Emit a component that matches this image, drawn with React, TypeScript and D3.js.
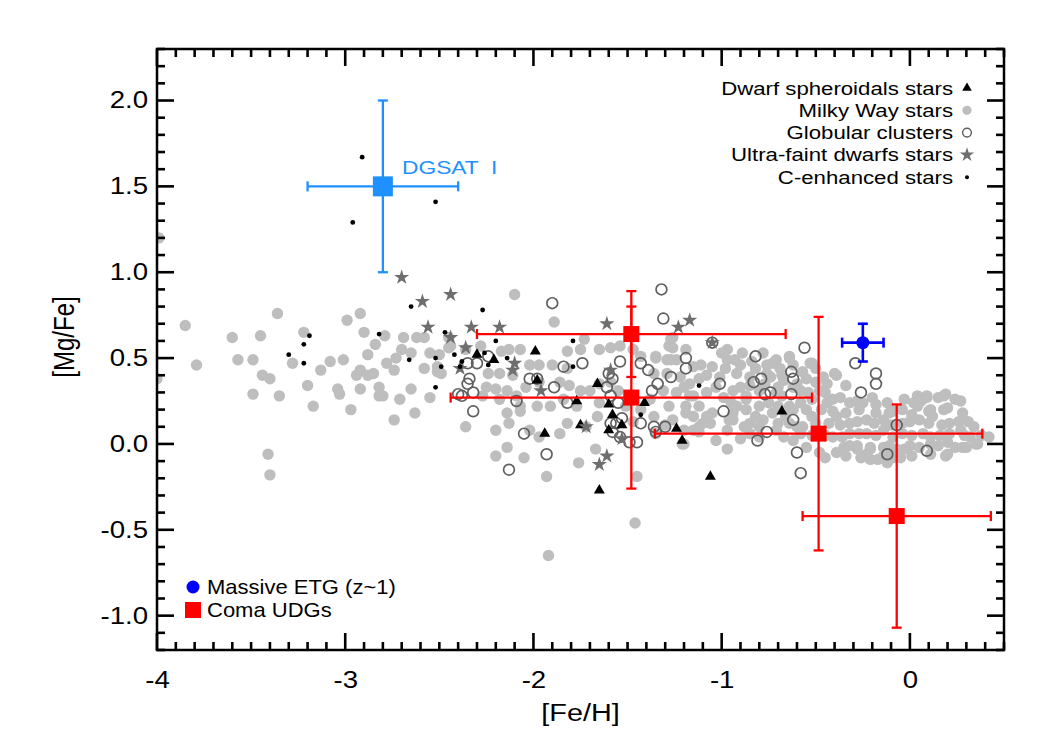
import React, { useEffect, useRef } from 'react';
import * as d3 from 'd3';

// [Fe/H], [Mg/Fe] pairs
const milkyWay: [number, number][] = [
  [-3.99, 1.2], [-4.0, 0.38], [-3.85, 0.69], [-3.79, 0.46], [-3.6, 0.62], [-3.57, 0.49], [-3.49, 0.49],
  [-3.45, 0.63], [-3.44, 0.4], [-3.4, 0.38], [-3.49, 0.29], [-3.35, 0.28], [-3.36, 0.76], [-3.22, 0.65],
  [-3.28, 0.47], [-3.2, 0.34], [-3.17, 0.22], [-3.13, 0.43], [-3.08, 0.48], [-3.01, 0.49], [-3.04, 0.32],
  [-3.03, 0.29], [-2.97, 0.2], [-2.99, 0.72], [-2.92, 0.76], [-2.9, 0.65], [-2.84, 0.58], [-2.88, 0.52],
  [-2.94, 0.4], [-2.92, 0.43], [-2.88, 0.4], [-2.85, 0.41], [-2.92, 0.32], [-2.82, 0.33], [-2.82, 0.28],
  [-2.8, 0.28], [-2.78, 0.47], [-2.73, 0.5], [-2.74, 0.43], [-2.7, 0.55], [-2.69, 0.62], [-2.79, 0.63],
  [-2.62, 0.62], [-2.58, 0.62], [-2.65, 0.32], [-2.71, 0.26], [-2.74, 0.14], [-2.63, 0.18], [-2.55, 0.27],
  [-2.58, 0.44], [-2.55, 0.53], [-2.5, 0.52], [-2.51, 0.42], [-2.49, 0.41], [-2.45, 0.56], [-2.45, 0.62],
  [-3.41, -0.06], [-3.4, -0.18],
  [-2.65, 0.53], [-2.51, 0.45], [-2.44, 0.57], [-2.36, 0.55], [-2.28, 0.57], [-2.17, 0.54], [-2.13, 0.55],
  [-2.07, 0.55], [-2.24, 0.41], [-2.18, 0.41], [-2.11, 0.4], [-2.02, 0.46], [-1.97, 0.46], [-1.9, 0.46],
  [-1.82, 0.44], [-2.25, 0.33], [-2.2, 0.32], [-2.14, 0.31], [-2.09, 0.28], [-2.04, 0.33], [-1.97, 0.36],
  [-1.86, 0.36], [-1.81, 0.34], [-1.75, 0.31], [-1.7, 0.31], [-1.65, 0.35], [-1.59, 0.36], [-1.55, 0.31],
  [-2.27, 0.28], [-2.18, 0.26], [-2.07, 0.22], [-1.98, 0.22], [-1.91, 0.22], [-1.84, 0.26], [-1.77, 0.22],
  [-1.65, 0.24], [-2.14, 0.18], [-2.07, 0.19], [-2.36, 0.1], [-2.2, 0.08], [-2.13, 0.12], [-2.02, 0.08],
  [-1.97, 0.04], [-1.86, 0.06], [-1.82, 0.12], [-1.72, 0.1], [-1.66, 0.16], [-2.2, -0.07], [-2.05, -0.08],
  [-1.93, -0.19], [-1.76, -0.11], [-1.67, -0.03], [-1.45, -0.19], [-2.1, 0.87], [-1.89, 0.71], [-1.73, 0.61],
  [-1.75, 0.55], [-1.65, 0.55], [-1.59, 0.56], [-1.54, 0.57], [-1.47, 0.55], [-1.43, 0.51], [-1.35, 0.51],
  [-1.29, 0.49], [-1.24, 0.49], [-1.19, 0.55], [-1.15, 0.45], [-1.26, 0.62], [-1.28, 0.57], [-1.36, 0.41],
  [-1.29, 0.41], [-1.22, 0.39], [-1.17, 0.35], [-1.31, 0.31], [-1.24, 0.3], [-1.17, 0.28], [-1.38, 0.26],
  [-1.28, 0.22], [-1.19, 0.22], [-1.15, 0.16], [-1.47, 0.28], [-1.43, 0.2], [-1.51, 0.22], [-1.47, 0.13],
  [-1.36, 0.16], [-1.26, 0.14], [-1.2, 0.0], [-1.12, 0.1], [-1.92, -0.65], [-1.46, -0.46], [-1.82, 0.54],
  [-1.08, 0.16], [-0.94, 0.18], [-0.87, 0.26], [-2.14, -0.02],
  [-1.35, 0.5], [-1.27, 0.49], [-1.26, 0.56], [-1.27, 0.61], [-1.11, 0.46], [-1.05, 0.45], [-0.97, 0.55],
  [-0.97, 0.49], [-0.89, 0.53], [-0.76, 0.46], [-0.71, 0.49], [-0.64, 0.5], [-0.53, 0.47], [-1.01, 0.39],
  [-0.92, 0.41], [-0.85, 0.39], [-0.74, 0.39], [-0.67, 0.37], [-0.6, 0.35], [-0.46, 0.39], [-0.39, 0.4],
  [-0.34, 0.34], [-1.2, 0.33], [-1.15, 0.28], [-1.08, 0.3], [-1.03, 0.33], [-0.94, 0.31], [-0.87, 0.28],
  [-0.8, 0.31], [-0.71, 0.3], [-0.58, 0.31], [-0.48, 0.31], [-0.41, 0.26], [-0.32, 0.24], [-0.25, 0.24],
  [-0.18, 0.23], [-0.11, 0.18], [-0.04, 0.2], [0.04, 0.22], [0.09, 0.28], [0.18, 0.28], [0.2, 0.21],
  [-1.19, 0.18], [-1.12, 0.22], [-1.05, 0.18], [-0.96, 0.14], [-0.87, 0.2], [-0.8, 0.22], [-0.73, 0.18],
  [-0.64, 0.22], [-0.55, 0.2], [-0.44, 0.24], [-0.39, 0.16], [-0.32, 0.12], [-0.23, 0.14], [-0.14, 0.14],
  [-0.04, 0.12], [0.05, 0.14], [0.12, 0.16], [0.21, 0.12], [0.27, 0.08], [0.32, 0.04], [0.36, 0.0],
  [0.28, -0.02], [0.2, 0.01], [0.11, 0.0], [0.0, -0.01], [-0.07, -0.03], [-0.14, -0.02], [-0.21, -0.03],
  [-0.28, -0.01], [-0.35, -0.02], [-0.41, 0.04], [-0.32, 0.06], [-0.23, 0.06], [-0.14, 0.08], [-0.04, 0.06],
  [0.07, 0.06], [0.16, 0.05], [-0.39, -0.05], [-0.28, -0.03], [-0.14, -0.07], [-0.05, -0.08], [-0.12, -0.11],
  [-0.23, -0.06], [-0.97, -0.03], [-0.9, 0.03], [-0.85, 0.06], [-0.94, 0.14], [-0.8, 0.1], [-0.71, 0.08],
  [-0.64, 0.12], [-0.57, 0.1], [-0.43, 0.12], [-0.8, 0.04], [-0.67, 0.04], [-1.2, 0.08], [-1.15, 0.08],
  [-1.12, 0.07], [-1.1, 0.12], [-1.06, 0.12], [-1.03, 0.02], [-0.97, 0.08], [-1.21, 0.0], [-1.35, 0.06],
  [-1.3, 0.11], [0.19, 0.29], [0.27, 0.25], [0.31, 0.13], [0.35, 0.0], [0.3, -0.02], [0.2, -0.06],
  [0.09, 0.27], [0.02, 0.24], [0.11, 0.2], [-0.12, -0.06], [-0.21, -0.09], [-0.52, 0.47], [-0.4, 0.41],
  [-0.44, 0.35], [-0.64, 0.51], [-0.73, 0.47], [-0.76, 0.41], [-1.0, 0.53], [-0.93, 0.49], [-0.82, 0.44],
  [-0.69, 0.44], [-0.55, 0.38], [-0.5, 0.44],
  [-0.37, 0.27], [-0.28, 0.25], [-0.2, 0.27], [-0.12, 0.24], [-0.03, 0.26], [0.06, 0.25], [0.15, 0.27],
  [0.24, 0.26], [-0.41, 0.19], [-0.34, 0.18], [-0.27, 0.2], [-0.18, 0.18], [-0.09, 0.19], [0.01, 0.17],
  [0.1, 0.19], [0.18, 0.2], [0.28, 0.18], [-0.37, 0.11], [-0.28, 0.13], [-0.19, 0.12], [-0.1, 0.11],
  [0.0, 0.13], [0.1, 0.12], [0.17, 0.11], [0.26, 0.13], [0.34, 0.1], [-0.45, 0.05], [-0.36, 0.04],
  [-0.27, 0.06], [-0.18, 0.05], [-0.09, 0.04], [0.01, 0.05], [0.11, 0.04], [0.21, 0.06], [0.29, 0.05],
  [0.38, 0.05], [-0.32, -0.01], [-0.21, -0.02], [-0.11, -0.01], [-0.03, -0.03], [0.05, -0.02], [0.15, -0.01],
  [0.24, -0.02], [-0.34, -0.07], [-0.26, -0.08], [-0.17, -0.09], [-0.09, -0.08], [0.01, -0.07], [0.11, -0.06],
  [0.19, -0.07], [-0.95, 0.24], [-0.9, 0.33], [-0.82, 0.16], [-0.75, 0.24], [-0.68, 0.28], [-0.62, 0.2],
  [-0.58, 0.06], [-0.52, 0.26], [-0.5, 0.12], [-0.47, 0.2], [-0.88, 0.1], [-0.7, 0.12], [-0.62, 0.02],
  [-0.55, -0.02], [-0.48, -0.05], [-0.45, -0.08],
  [-0.98, 0.44], [-0.9, 0.46], [-0.84, 0.48], [-0.78, 0.53], [-0.68, 0.4], [-0.62, 0.46], [-0.57, 0.42],
  [-0.5, 0.36], [-0.45, 0.3], [-1.08, 0.4], [-1.12, 0.38], [-0.99, 0.27], [-0.85, 0.34], [-0.77, 0.35],
  [-0.7, 0.33], [-0.62, 0.33], [-0.54, 0.3], [-0.92, 0.22], [-0.7, 0.22], [-0.58, 0.24], [-0.52, 0.16],
  [-0.78, 0.14], [-0.85, 0.12], [-0.66, 0.16], [-0.6, 0.1], [-0.52, 0.05], [0.42, 0.04], [0.04, 0.28],
];

const globulars: [number, number][] = [
  [-1.9, 0.82], [-1.32, 0.9], [-1.31, 0.73], [-2.35, 0.47], [-2.3, 0.47], [-2.24, 0.51], [-2.34, 0.38],
  [-2.35, 0.35], [-2.4, 0.29], [-2.38, 0.28], [-2.32, 0.3], [-2.32, 0.19], [-2.09, 0.25], [-2.02, 0.38],
  [-1.98, 0.38], [-1.89, 0.33], [-1.84, 0.45], [-1.74, 0.47], [-1.82, 0.24], [-2.05, 0.06], [-1.93, -0.06],
  [-2.13, -0.15], [-1.6, 0.41], [-1.61, 0.33], [-1.58, 0.38], [-1.54, 0.48], [-1.59, 0.28], [-1.55, 0.24],
  [-1.59, 0.12], [-1.56, 0.12], [-1.53, 0.15], [-1.58, 0.07], [-1.54, 0.04], [-1.49, 0.01], [-1.43, 0.47],
  [-1.39, 0.43], [-1.43, 0.12], [-1.36, 0.1], [-1.3, 0.1], [-1.35, 0.07], [-1.37, 0.31], [-1.34, 0.35],
  [-1.27, 0.39], [-1.19, 0.5], [-1.19, 0.44], [-1.45, 0.01], [-1.01, 0.35], [-0.99, 0.19], [-0.82, 0.51],
  [-0.83, 0.36], [-0.79, 0.38], [-0.77, 0.29], [-0.74, 0.3], [-0.76, 0.07], [-0.81, 0.02], [-0.63, 0.42],
  [-0.62, 0.38], [-0.63, 0.29], [-0.62, 0.14], [-0.6, -0.05], [-0.58, -0.17], [-0.56, 0.56], [-0.29, 0.47],
  [-0.18, 0.41], [-0.18, 0.35], [-0.26, 0.3], [-0.07, 0.11], [-0.12, -0.06], [0.09, -0.04], [-1.05, 0.59],
];

const dwarfSph: [number, number][] = [
  [-1.99, 0.54], [-2.3, 0.52], [-2.21, 0.49], [-1.98, 0.37], [-1.66, 0.35], [-1.77, 0.25], [-1.6, 0.23],
  [-1.41, 0.24], [-1.75, 0.11], [-1.94, 0.06], [-1.6, 0.08], [-1.53, 0.11], [-1.24, 0.09], [-1.21, 0.02],
  [-1.65, -0.27], [-1.58, 0.17], [-0.68, 0.19], [-1.06, -0.19],
];

const ultraFaint: [number, number][] = [
  [-2.7, 0.97], [-2.59, 0.83], [-2.44, 0.87], [-2.56, 0.68], [-2.33, 0.68], [-2.18, 0.68], [-2.44, 0.62],
  [-2.36, 0.56], [-2.39, 0.44], [-2.1, 0.47], [-2.11, 0.43], [-1.61, 0.7], [-1.59, 0.43], [-1.96, 0.31],
  [-1.72, 0.1], [-1.61, -0.07], [-1.65, -0.12], [-1.53, 0.03], [-1.17, 0.72], [-1.23, 0.68], [-1.05, 0.59],
];

const cEnhanced: [number, number][] = [
  [-2.91, 1.67], [-2.96, 1.29], [-2.52, 1.41], [-2.65, 0.8], [-2.82, 0.64], [-3.19, 0.63], [-3.22, 0.58],
  [-3.3, 0.52], [-3.22, 0.47], [-2.66, 0.49], [-2.52, 0.5], [-2.49, 0.45], [-2.52, 0.33], [-2.47, 0.65],
  [-2.27, 0.78], [-2.42, 0.52], [-2.39, 0.45], [-2.38, 0.48], [-2.26, 0.53], [-2.24, 0.46], [-2.2, 0.6],
  [-2.14, 0.5], [-1.79, 0.6], [-1.79, 0.45], [-1.43, 0.17], [-1.12, 0.34],
];

// Coma UDGs with errors
const udgFeH = [-1.48, -1.48, -0.485, -0.07];
const udgMgFe = [0.64, 0.27, 0.06, -0.42];
const udgFeHErr = [0.82, 0.96, 0.87, 0.5];
const udgMgFeErr = [0.25, 0.53, 0.68, 0.65];

const etg = { feh: -0.25, mgfe: 0.59, fehErr: 0.11, mgfeErr: 0.11 };
const dgsat = { feh: -2.8, mgfe: 1.5, fehErr: 0.4, mgfeErr: 0.5 };

const xMajor = [-4, -3, -2, -1, 0];
const yMajor = [-1, -0.5, 0, 0.5, 1, 1.5, 2];
const xMinor = d3.range(-40, 6).map((d) => d / 10);
const yMinor = d3.range(-12, 24).map((d) => d / 10);

const legendTop = ['Dwarf spheroidals stars', 'Milky Way stars', 'Globular clusters', 'Ultra-faint dwarfs stars', 'C-enhanced stars'];

const FONT = '"Liberation Sans", Arial, Helvetica, sans-serif';
const SX = 1.2;

const App = () => {
  const ref = useRef<SVGSVGElement>(null);

  useEffect(() => {
    if (!ref.current) return;
    const svg = d3.select(ref.current);
    svg.selectAll('*').remove();

    const left = 157, right = 1004, top = 49, bottom = 650;
    const x = d3.scaleLinear().domain([-4, 0.5]).range([left, right]);
    const y = d3.scaleLinear().domain([-1.2, 2.3]).range([bottom, top]);

    svg.append('defs').append('clipPath').attr('id', 'plotclip')
      .append('rect').attr('x', left).attr('y', top).attr('width', right - left).attr('height', bottom - top);

    const pts = svg.append('g').attr('clip-path', 'url(#plotclip)');

    pts.append('g').selectAll('circle').data(milkyWay).join('circle')
      .attr('cx', (d) => x(d[0])).attr('cy', (d) => y(d[1])).attr('r', 5.7).attr('fill', '#bebebe');

    pts.append('g').selectAll('circle').data(globulars).join('circle')
      .attr('cx', (d) => x(d[0])).attr('cy', (d) => y(d[1])).attr('r', 5.4)
      .attr('fill', 'none').attr('stroke', '#5f5f5f').attr('stroke-width', 1.7);

    const tri = d3.symbol().type(d3.symbolTriangle).size(52);
    pts.append('g').selectAll('path').data(dwarfSph).join('path')
      .attr('transform', (d) => `translate(${x(d[0])},${y(d[1])})`).attr('d', tri()).attr('fill', '#000');

    const star = d3.symbol().type(d3.symbolStar).size(72);
    pts.append('g').selectAll('path').data(ultraFaint).join('path')
      .attr('transform', (d) => `translate(${x(d[0])},${y(d[1])})`).attr('d', star()).attr('fill', '#6e6e6e');

    pts.append('g').selectAll('circle').data(cEnhanced).join('circle')
      .attr('cx', (d) => x(d[0])).attr('cy', (d) => y(d[1])).attr('r', 2.4).attr('fill', '#000');

    // error bars
    const errBar = (cx: number, cy: number, ex: number, ey: number, color: string, sw: number, cap: number) => {
      const g = svg.append('g').attr('stroke', color).attr('stroke-width', sw);
      g.append('line').attr('x1', x(cx - ex)).attr('x2', x(cx + ex)).attr('y1', y(cy)).attr('y2', y(cy));
      g.append('line').attr('x1', x(cx)).attr('x2', x(cx)).attr('y1', y(cy - ey)).attr('y2', y(cy + ey));
      [cx - ex, cx + ex].forEach((v) => g.append('line').attr('x1', x(v)).attr('x2', x(v)).attr('y1', y(cy) - cap).attr('y2', y(cy) + cap));
      [cy - ey, cy + ey].forEach((v) => g.append('line').attr('y1', y(v)).attr('y2', y(v)).attr('x1', x(cx) - cap).attr('x2', x(cx) + cap));
    };

    udgFeH.forEach((fe, i) => errBar(fe, udgMgFe[i], udgFeHErr[i], udgMgFeErr[i], '#ff0000', 2.3, 5));
    svg.append('g').selectAll('rect').data(udgFeH).join('rect')
      .attr('x', (d) => x(d) - 8).attr('y', (d, i) => y(udgMgFe[i]) - 8)
      .attr('width', 16).attr('height', 16).attr('fill', '#ff0000');

    errBar(etg.feh, etg.mgfe, etg.fehErr, etg.mgfeErr, '#0000ff', 2.6, 5);
    svg.append('circle').attr('cx', x(etg.feh)).attr('cy', y(etg.mgfe)).attr('r', 6.5).attr('fill', '#0000ff');

    errBar(dgsat.feh, dgsat.mgfe, dgsat.fehErr, dgsat.mgfeErr, '#1e90ff', 2.3, 5);
    svg.append('rect').attr('x', x(dgsat.feh) - 10).attr('y', y(dgsat.mgfe) - 10)
      .attr('width', 20).attr('height', 20).attr('fill', '#1e90ff');
    svg.append('text').attr('transform', `translate(402,174) scale(${SX},1)`)
      .attr('font-family', FONT).attr('font-size', 19).attr('fill', '#1e90ff')
      .style('white-space', 'pre').text('DGSAT  I');

    // tick labels through d3 axes
    const clean = (g: any) => {
      g.select('.domain').remove();
      g.selectAll('.tick line').remove();
      g.selectAll('.tick text').attr('font-family', FONT).attr('font-size', 23).attr('fill', '#000')
        .attr('transform', `scale(${SX},1)`);
    };
    svg.append('g').attr('transform', `translate(0,${bottom})`)
      .call(d3.axisBottom(x).tickValues(xMajor).tickSize(0).tickPadding(22).tickFormat((d) => String(d)))
      .call(clean);
    svg.append('g').attr('transform', `translate(${left},0)`)
      .call(d3.axisLeft(y).tickValues(yMajor).tickSize(0).tickPadding(7.5).tickFormat((d) => (+d).toFixed(1)))
      .call(clean);

    // frame and inward tick marks on all four sides
    svg.append('rect').attr('x', left).attr('y', top).attr('width', right - left).attr('height', bottom - top)
      .attr('fill', 'none').attr('stroke', '#000').attr('stroke-width', 2.5);

    const isMajor = (v: number, majors: number[]) => majors.some((m) => Math.abs(m - v) < 1e-9);
    const tk = svg.append('g').attr('stroke', '#000').attr('stroke-width', 2.6);
    tk.selectAll('line.xb').data(xMinor).join('line').attr('class', 'xb')
      .attr('x1', (v) => x(v)).attr('x2', (v) => x(v))
      .attr('y1', bottom).attr('y2', (v) => bottom - (isMajor(v, xMajor) ? 17 : 8));
    tk.selectAll('line.xt').data(xMinor).join('line').attr('class', 'xt')
      .attr('x1', (v) => x(v)).attr('x2', (v) => x(v))
      .attr('y1', top).attr('y2', (v) => top + (isMajor(v, xMajor) ? 17 : 8));
    tk.selectAll('line.yl').data(yMinor).join('line').attr('class', 'yl')
      .attr('y1', (v) => y(v)).attr('y2', (v) => y(v))
      .attr('x1', left).attr('x2', (v) => left + (isMajor(v, yMajor) ? 17 : 8));
    tk.selectAll('line.yr').data(yMinor).join('line').attr('class', 'yr')
      .attr('y1', (v) => y(v)).attr('y2', (v) => y(v))
      .attr('x1', right).attr('x2', (v) => right - (isMajor(v, yMajor) ? 17 : 8));

    svg.append('text').attr('transform', `translate(${(left + right) / 2},721) scale(${SX},1)`)
      .attr('text-anchor', 'middle').attr('font-family', FONT).attr('font-size', 24).text('[Fe/H]');
    svg.append('text').attr('transform', `translate(74,337) scale(${SX},1) rotate(-90)`)
      .attr('text-anchor', 'middle').attr('font-family', FONT).attr('font-size', 24).text('[Mg/Fe]');

    // legend top right
    const lg = svg.append('g');
    const rowY = (i: number) => 88 + i * 22.3;
    legendTop.forEach((t, i) => {
      lg.append('text').attr('transform', `translate(953,${rowY(i) + 6.5}) scale(${SX},1)`)
        .attr('text-anchor', 'end').attr('font-family', FONT).attr('font-size', 18.5).text(t);
    });
    lg.append('path').attr('transform', `translate(967,${rowY(0)})`)
      .attr('d', d3.symbol().type(d3.symbolTriangle).size(40)()).attr('fill', '#000');
    lg.append('circle').attr('cx', 967).attr('cy', rowY(1)).attr('r', 4.6).attr('fill', '#bebebe');
    lg.append('circle').attr('cx', 967).attr('cy', rowY(2)).attr('r', 4.4)
      .attr('fill', 'none').attr('stroke', '#5f5f5f').attr('stroke-width', 1.4);
    lg.append('path').attr('transform', `translate(967,${rowY(3)})`)
      .attr('d', d3.symbol().type(d3.symbolStar).size(65)()).attr('fill', '#6e6e6e');
    lg.append('circle').attr('cx', 967).attr('cy', rowY(4)).attr('r', 2).attr('fill', '#000');

    // legend bottom left
    const lb = svg.append('g');
    lb.append('circle').attr('cx', 193).attr('cy', 587).attr('r', 6.5).attr('fill', '#0000ff');
    lb.append('rect').attr('x', 185).attr('y', 602).attr('width', 16).attr('height', 16).attr('fill', '#ff0000');
    lb.append('text').attr('transform', `translate(207,594) scale(1.1,1)`)
      .attr('font-family', FONT).attr('font-size', 20).text('Massive ETG (z~1)');
    lb.append('text').attr('transform', `translate(207,617) scale(1.1,1)`)
      .attr('font-family', FONT).attr('font-size', 20).text('Coma UDGs');
  }, []);

  return (
    <svg
      ref={ref}
      width={1050}
      height={750}
      style={{ position: 'absolute', left: 0, top: 0, background: '#fff' }}
    />
  );
};

export default App;
